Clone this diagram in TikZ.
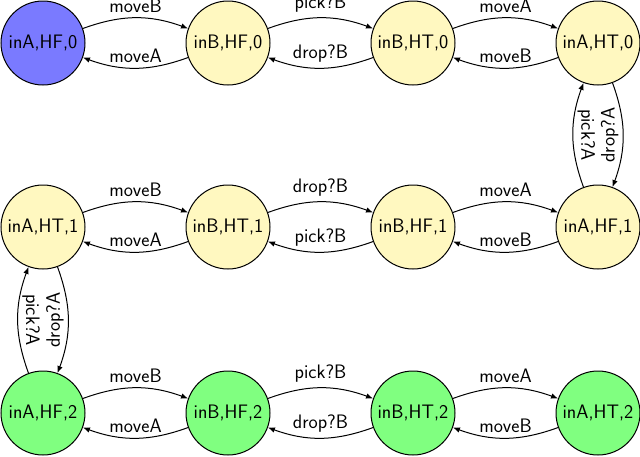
\documentclass[tikz,border=0pt]{standalone}
\usetikzlibrary{arrows.meta}
\definecolor{cblue}{RGB}{122,122,255}
\definecolor{cyel}{RGB}{255,248,192}
\definecolor{cgreen}{RGB}{128,255,128}
\tikzset{
  st/.style={circle, draw=black, line width=1pt, minimum size=84pt, inner sep=0pt,
    font=\fontsize{19.5}{22}\selectfont\sffamily},
  edge/.style={draw=black, line width=1pt, -{Latex[length=7pt,width=5.5pt]}},
  lbl/.style={font=\fontsize{19.5}{22}\selectfont\sffamily, midway, above, inner sep=5pt},
  lup/.style={font=\fontsize{19.5}{22}\selectfont\sffamily, midway, rotate=-90, anchor=south, inner sep=4pt},
  ldn/.style={font=\fontsize{19.5}{22}\selectfont\sffamily, midway, rotate=90, anchor=south, inner sep=4pt},
}
\begin{document}
\begin{tikzpicture}[x=1pt,y=-1pt]
\useasboundingbox (0,0) rectangle (640,456);
% row 0
\node[st, fill=cblue] (a0) at (43,43) {inA,HF,0};
\node[st, fill=cyel] (b0) at (228,43) {inB,HF,0};
\node[st, fill=cyel] (c0) at (413,43) {inB,HT,0};
\node[st, fill=cyel] (d0) at (598,43) {inA,HT,0};
% row 1
\node[st, fill=cyel] (a1) at (43,227) {inA,HT,1};
\node[st, fill=cyel] (b1) at (228,227) {inB,HT,1};
\node[st, fill=cyel] (c1) at (413,227) {inB,HF,1};
\node[st, fill=cyel] (d1) at (598,227) {inA,HF,1};
% row 2
\node[st, fill=cgreen] (a2) at (43,413) {inA,HF,2};
\node[st, fill=cgreen] (b2) at (228,413) {inB,HF,2};
\node[st, fill=cgreen] (c2) at (413,413) {inB,HT,2};
\node[st, fill=cgreen] (d2) at (598,413) {inA,HT,2};
% row 0 edges
\draw[edge] (a0) to[bend left=20] node[lbl]{moveB} (b0);
\draw[edge] (b0) to[bend left=20] node[lbl]{moveA} (a0);
\draw[edge] (b0) to[bend left=20] node[lbl]{pick?B} (c0);
\draw[edge] (c0) to[bend left=20] node[lbl]{drop?B} (b0);
\draw[edge] (c0) to[bend left=20] node[lbl]{moveA} (d0);
\draw[edge] (d0) to[bend left=20] node[lbl]{moveB} (c0);
% right vertical
\draw[edge] (d1) to[bend left=20] node[lup]{pick?A} (d0);
\draw[edge] (d0) to[bend left=20] node[ldn]{drop?A} (d1);
% row 1 edges
\draw[edge] (a1) to[bend left=20] node[lbl]{moveB} (b1);
\draw[edge] (b1) to[bend left=20] node[lbl]{moveA} (a1);
\draw[edge] (b1) to[bend left=20] node[lbl]{drop?B} (c1);
\draw[edge] (c1) to[bend left=20] node[lbl]{pick?B} (b1);
\draw[edge] (c1) to[bend left=20] node[lbl]{moveA} (d1);
\draw[edge] (d1) to[bend left=20] node[lbl]{moveB} (c1);
% left vertical
\draw[edge] (a2) to[bend left=20] node[lup]{pick?A} (a1);
\draw[edge] (a1) to[bend left=20] node[ldn]{drop?A} (a2);
% row 2 edges
\draw[edge] (a2) to[bend left=20] node[lbl]{moveB} (b2);
\draw[edge] (b2) to[bend left=20] node[lbl]{moveA} (a2);
\draw[edge] (b2) to[bend left=20] node[lbl]{pick?B} (c2);
\draw[edge] (c2) to[bend left=20] node[lbl]{drop?B} (b2);
\draw[edge] (c2) to[bend left=20] node[lbl]{moveA} (d2);
\draw[edge] (d2) to[bend left=20] node[lbl]{moveB} (c2);
\end{tikzpicture}
\end{document}
